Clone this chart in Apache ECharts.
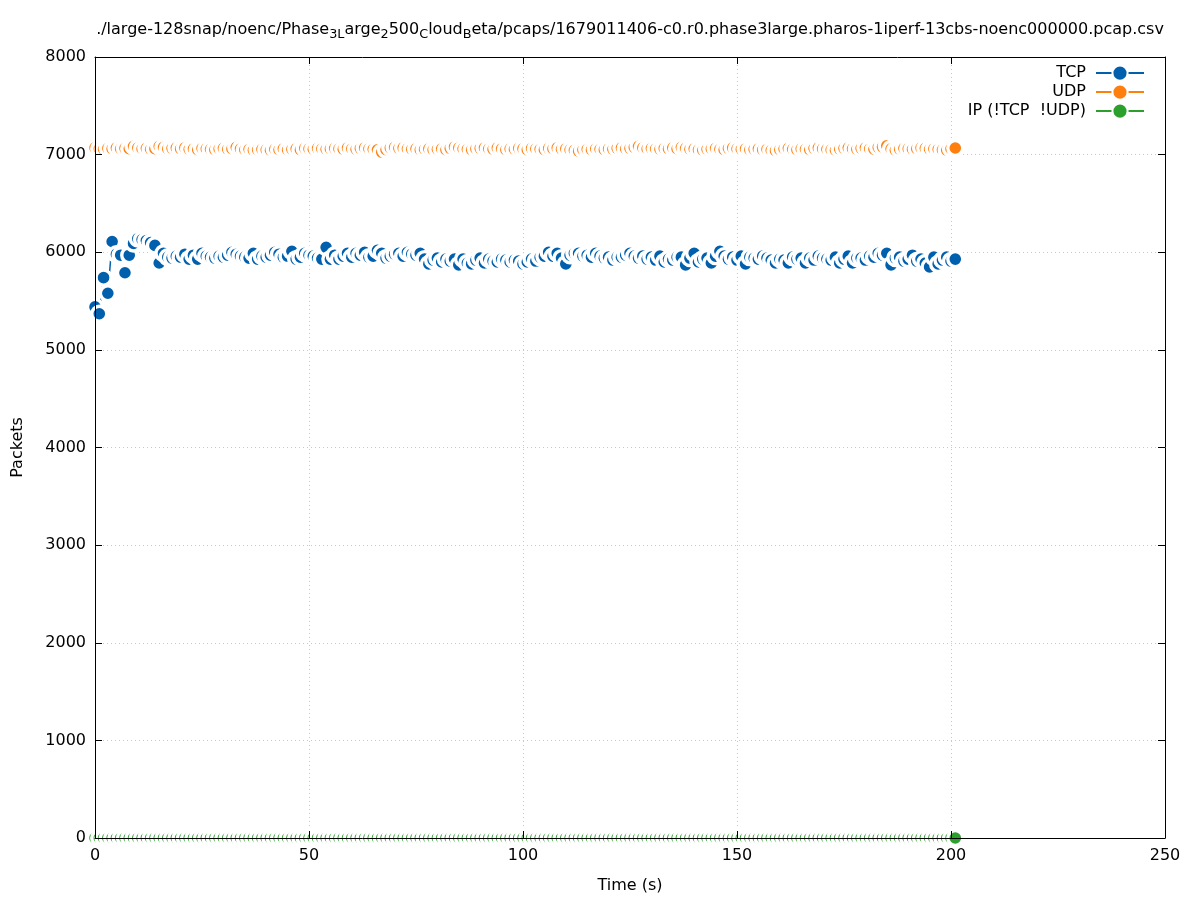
<!DOCTYPE html>
<html>
<head>
<meta charset="utf-8">
<script src="https://cdn.jsdelivr.net/npm/echarts@6/dist/echarts.min.js"></script>
<style>
html,body{margin:0;padding:0;background:#fff;}
#chart{width:1197px;height:900px;}
</style>
</head>
<body>
<div id="chart"></div>
<script>
// ---- data ----
const startTime = 0;   // first sample time (s)
const sampleStep = 1;  // seconds between samples

const tcpPackets = [
5440,5370,5740,5580,6110,5980,5970,5790,5970,6090,
6140,6130,6120,6100,6070,5890,5990,5950,5940,5960,
5950,5980,5930,5970,5930,5990,5960,5950,5940,5960,
5950,5970,6000,5980,5960,5950,5940,5990,5930,5960,
5950,5970,6000,5980,5950,5960,6010,5930,5950,5990,
5970,5960,5940,5930,6050,5930,5970,5930,5960,5990,
5950,5990,5970,6000,5950,5960,6020,5990,5940,5960,
5980,5990,5960,6000,5980,5970,5990,5930,5880,5920,
5940,5900,5930,5910,5930,5870,5930,5890,5880,5920,
5940,5890,5930,5910,5900,5930,5920,5900,5920,5910,
5880,5900,5930,5910,5950,5960,6000,5960,5990,5940,
5880,5970,5990,5990,5960,5970,5950,5990,5960,5940,
5950,5920,5950,5950,5970,5990,5960,5940,5960,5930,
5950,5920,5960,5900,5930,5920,5950,5950,5870,5940,
5990,5900,5930,5940,5890,5960,6010,5960,5930,5950,
5920,5960,5880,5950,5940,5930,5960,5940,5920,5890,
5930,5920,5890,5950,5930,5940,5890,5940,5920,5960,
5940,5930,5920,5950,5890,5930,5960,5890,5940,5940,
5920,5960,5950,5990,5970,5990,5870,5940,5950,5910,
5930,5970,5910,5930,5890,5850,5950,5880,5920,5950,
5910,5930
];

const udpPackets = [
7070,7060,7055,7065,7060,7070,7060,7065,7060,7085,
7070,7060,7065,7055,7060,7085,7075,7060,7065,7070,
7060,7070,7055,7060,7050,7065,7060,7055,7050,7060,
7065,7055,7060,7075,7060,7050,7055,7045,7050,7055,
7050,7045,7055,7050,7060,7050,7055,7060,7050,7065,
7060,7055,7065,7060,7055,7060,7065,7060,7055,7070,
7060,7055,7065,7070,7060,7055,7050,7025,7050,7070,
7075,7065,7070,7060,7055,7060,7050,7055,7060,7050,
7055,7060,7050,7065,7080,7070,7060,7055,7050,7060,
7065,7070,7060,7055,7070,7060,7050,7060,7055,7065,
7060,7050,7065,7060,7055,7050,7065,7060,7070,7055,
7060,7050,7045,7035,7050,7055,7050,7060,7055,7050,
7060,7055,7065,7070,7060,7065,7075,7085,7070,7060,
7065,7060,7055,7065,7060,7070,7060,7075,7065,7055,
7060,7050,7045,7055,7060,7065,7055,7050,7065,7070,
7060,7055,7060,7050,7055,7060,7050,7055,7045,7040,
7050,7060,7065,7055,7050,7060,7055,7050,7065,7070,
7060,7055,7050,7045,7055,7065,7070,7060,7055,7065,
7070,7060,7055,7075,7080,7090,7060,7045,7055,7065,
7060,7055,7060,7070,7065,7055,7060,7055,7050,7045,
7060,7068
];

const ipPackets = [
0,0,0,0,0,0,0,0,0,0, 0,0,0,0,0,0,0,0,0,0,
0,0,0,0,0,0,0,0,0,0, 0,0,0,0,0,0,0,0,0,0,
0,0,0,0,0,0,0,0,0,0, 0,0,0,0,0,0,0,0,0,0,
0,0,0,0,0,0,0,0,0,0, 0,0,0,0,0,0,0,0,0,0,
0,0,0,0,0,0,0,0,0,0, 0,0,0,0,0,0,0,0,0,0,
0,0,0,0,0,0,0,0,0,0, 0,0,0,0,0,0,0,0,0,0,
0,0,0,0,0,0,0,0,0,0, 0,0,0,0,0,0,0,0,0,0,
0,0,0,0,0,0,0,0,0,0, 0,0,0,0,0,0,0,0,0,0,
0,0,0,0,0,0,0,0,0,0, 0,0,0,0,0,0,0,0,0,0,
0,0,0,0,0,0,0,0,0,0, 0,0,0,0,0,0,0,0,0,0,
0,0
];

const seriesNames = ['TCP', 'UDP', 'IP (!TCP  !UDP)'];
const xTicks = [0, 50, 100, 150, 200, 250];
const yTicks = [0, 1000, 2000, 3000, 4000, 5000, 6000, 7000, 8000];

// ---- styles ----
const FONT = 'DejaVu Sans';
const colors = ['#0060ad', '#ff7f0e', '#2ca02c'];

function pairs(values) {
  return values.map((v, i) => [startTime + i * sampleStep, v]);
}

function makeSeries(name, values, color) {
  return {
    type: 'line',
    name: name,
    data: pairs(values),
    symbol: 'circle',
    symbolSize: 15,
    showAllSymbol: true,
    clip: false,
    silent: true,
    lineStyle: { color: color, width: 1.5 },
    itemStyle: { color: color, borderColor: '#ffffff', borderWidth: 3.4 },
    emphasis: { disabled: true },
    z: 2
  };
}

function makeLegend(name, centerY) {
  return {
    data: [name],
    orient: 'vertical',
    right: 52,
    top: centerY - 9.5,
    align: 'right',
    padding: 0,
    itemWidth: 48,
    itemHeight: 19,
    selectedMode: false,
    lineStyle: { width: 2 },
    textStyle: { fontFamily: FONT, fontSize: 16, color: '#000', padding: [0, 5, 0, 0] }
  };
}

const axisLineStyle = { color: '#000', width: 1 };
const gridLineStyle = { color: '#c8c8c8', width: 1, type: [1, 3] };

const chart = echarts.init(document.getElementById('chart'), null, { renderer: 'canvas' });

chart.setOption({
  animation: false,
  backgroundColor: '#ffffff',
  textStyle: { fontFamily: FONT },
  grid: { left: 95, right: 32, top: 57, bottom: 62, containLabel: false },
  graphic: [{
    type: 'text',
    x: 630,
    y: 30,
    silent: true,
    style: {
      text: '{n|./large-128snap/noenc/Phase}{s|3L}{n|arge}{s|2}{n|500}{s|C}{n|loud}{s|B}{n|eta/pcaps/1679011406-c0.r0.phase3large.pharos-1iperf-13cbs-noenc000000.pcap.csv}',
      align: 'center',
      verticalAlign: 'middle',
      rich: {
        n: { fontFamily: FONT, fontSize: 16, lineHeight: 22, fill: '#000' },
        s: { fontFamily: FONT, fontSize: 12.8, lineHeight: 12, verticalAlign: 'bottom', fill: '#000' }
      }
    }
  }],
  legend: [
    makeLegend(seriesNames[0], 74),
    makeLegend(seriesNames[1], 93),
    makeLegend(seriesNames[2], 112)
  ],
  xAxis: [{
    type: 'value',
    position: 'bottom',
    min: xTicks[0],
    max: xTicks[xTicks.length - 1],
    interval: xTicks[1] - xTicks[0],
    z: 10,
    axisLine: { show: true, onZero: false, lineStyle: axisLineStyle },
    axisTick: { show: true, inside: true, length: 7, lineStyle: axisLineStyle },
    axisLabel: { show: true, color: '#000', fontFamily: FONT, fontSize: 16, margin: 10,
                 formatter: v => String(v) },
    splitLine: { show: false },
    name: 'Time (s)',
    nameLocation: 'middle',
    nameGap: 40,
    nameTextStyle: { color: '#000', fontFamily: FONT, fontSize: 16 }
  }, {
    type: 'value',
    position: 'top',
    min: xTicks[0],
    max: xTicks[xTicks.length - 1],
    interval: xTicks[1] - xTicks[0],
    axisLine: { show: true, onZero: false, lineStyle: axisLineStyle },
    axisTick: { show: true, inside: true, length: 7, lineStyle: axisLineStyle },
    axisLabel: { show: false },
    splitLine: { show: true, lineStyle: gridLineStyle }
  }],
  yAxis: [{
    type: 'value',
    position: 'left',
    min: yTicks[0],
    max: yTicks[yTicks.length - 1],
    interval: yTicks[1] - yTicks[0],
    z: 10,
    axisLine: { show: true, onZero: false, lineStyle: axisLineStyle },
    axisTick: { show: true, inside: true, length: 7, lineStyle: axisLineStyle },
    axisLabel: { show: true, color: '#000', fontFamily: FONT, fontSize: 16, margin: 9,
                 formatter: v => String(v) },
    splitLine: { show: false },
    name: 'Packets',
    nameLocation: 'middle',
    nameGap: 69,
    nameRotate: 90,
    nameTextStyle: { color: '#000', fontFamily: FONT, fontSize: 16 }
  }, {
    type: 'value',
    position: 'right',
    min: yTicks[0],
    max: yTicks[yTicks.length - 1],
    interval: yTicks[1] - yTicks[0],
    axisLine: { show: true, onZero: false, lineStyle: axisLineStyle },
    axisTick: { show: true, inside: true, length: 7, lineStyle: axisLineStyle },
    axisLabel: { show: false },
    splitLine: { show: true, lineStyle: gridLineStyle }
  }],
  series: [
    makeSeries(seriesNames[0], tcpPackets, colors[0]),
    makeSeries(seriesNames[1], udpPackets, colors[1]),
    makeSeries(seriesNames[2], ipPackets, colors[2])
  ]
});
</script>
</body>
</html>
